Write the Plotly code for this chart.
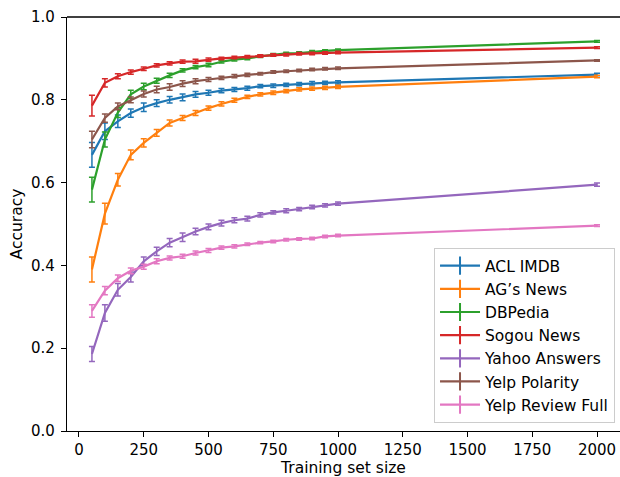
import plotly.graph_objects as go

train_size = [50, 100, 150, 200, 250, 300, 350, 400, 450, 500, 550, 600, 650, 700, 750, 800, 850, 900, 950, 1000, 2000]

series_names = ["ACL IMDB", "AG\u2019s News", "DBPedia", "Sogou News", "Yahoo Answers", "Yelp Polarity", "Yelp Review Full"]
series_colors = ["#1f77b4", "#ff7f0e", "#2ca02c", "#d62728", "#9467bd", "#8c564b", "#e377c2"]

acl_imdb = [0.667, 0.724, 0.748, 0.768, 0.782, 0.792, 0.800, 0.806, 0.813, 0.817, 0.822, 0.825, 0.828, 0.833, 0.834, 0.836, 0.838, 0.840, 0.841, 0.842, 0.861]
ag_news = [0.390, 0.525, 0.607, 0.667, 0.696, 0.720, 0.744, 0.756, 0.768, 0.780, 0.790, 0.799, 0.807, 0.813, 0.817, 0.821, 0.825, 0.827, 0.829, 0.831, 0.856]
dbpedia = [0.583, 0.704, 0.769, 0.813, 0.832, 0.846, 0.859, 0.871, 0.879, 0.884, 0.892, 0.897, 0.900, 0.905, 0.909, 0.912, 0.913, 0.916, 0.918, 0.920, 0.941]
sogou_news = [0.786, 0.841, 0.857, 0.867, 0.875, 0.883, 0.888, 0.892, 0.893, 0.897, 0.900, 0.902, 0.904, 0.906, 0.908, 0.909, 0.911, 0.912, 0.913, 0.914, 0.926]
yahoo_answers = [0.186, 0.285, 0.341, 0.372, 0.410, 0.434, 0.455, 0.468, 0.482, 0.493, 0.502, 0.509, 0.513, 0.522, 0.528, 0.532, 0.536, 0.541, 0.545, 0.549, 0.595]
yelp_polarity = [0.704, 0.756, 0.784, 0.800, 0.814, 0.825, 0.831, 0.839, 0.845, 0.849, 0.853, 0.857, 0.860, 0.863, 0.867, 0.869, 0.871, 0.873, 0.875, 0.876, 0.895]
yelp_full = [0.290, 0.339, 0.369, 0.387, 0.397, 0.410, 0.418, 0.422, 0.430, 0.436, 0.443, 0.446, 0.451, 0.455, 0.458, 0.462, 0.464, 0.465, 0.470, 0.472, 0.496]

acl_imdb_err = [0.030, 0.020, 0.015, 0.010, 0.010, 0.008, 0.008, 0.008, 0.007, 0.006, 0.005, 0.005, 0.005, 0.004, 0.004, 0.004, 0.004, 0.004, 0.004, 0.004, 0.003]
ag_news_err = [0.030, 0.025, 0.015, 0.012, 0.010, 0.008, 0.007, 0.006, 0.006, 0.005, 0.005, 0.005, 0.004, 0.004, 0.004, 0.004, 0.004, 0.004, 0.004, 0.004, 0.003]
dbpedia_err = [0.030, 0.018, 0.012, 0.010, 0.008, 0.006, 0.005, 0.004, 0.004, 0.004, 0.003, 0.003, 0.003, 0.003, 0.003, 0.003, 0.003, 0.003, 0.003, 0.003, 0.002]
sogou_news_err = [0.025, 0.010, 0.006, 0.005, 0.004, 0.004, 0.004, 0.004, 0.005, 0.004, 0.003, 0.003, 0.003, 0.003, 0.003, 0.003, 0.003, 0.003, 0.003, 0.003, 0.002]
yahoo_answers_err = [0.018, 0.020, 0.015, 0.012, 0.010, 0.010, 0.010, 0.010, 0.008, 0.007, 0.007, 0.006, 0.006, 0.005, 0.004, 0.005, 0.004, 0.004, 0.004, 0.004, 0.004]
yelp_polarity_err = [0.020, 0.010, 0.008, 0.007, 0.007, 0.008, 0.008, 0.007, 0.006, 0.005, 0.004, 0.004, 0.004, 0.003, 0.003, 0.003, 0.003, 0.003, 0.003, 0.003, 0.002]
yelp_full_err = [0.015, 0.010, 0.008, 0.007, 0.006, 0.006, 0.005, 0.005, 0.005, 0.005, 0.004, 0.004, 0.003, 0.003, 0.003, 0.003, 0.003, 0.003, 0.003, 0.003, 0.002]

x_ticks = [0, 250, 500, 750, 1000, 1250, 1500, 1750, 2000]
y_ticks = [0.0, 0.2, 0.4, 0.6, 0.8, 1.0]
y_tick_labels = ["0.0", "0.2", "0.4", "0.6", "0.8", "1.0"]

values = [acl_imdb, ag_news, dbpedia, sogou_news, yahoo_answers, yelp_polarity, yelp_full]
errors = [acl_imdb_err, ag_news_err, dbpedia_err, sogou_news_err, yahoo_answers_err, yelp_polarity_err, yelp_full_err]

FONT = "DejaVu Sans"
fig = go.Figure()

for name, color, vals, errs in zip(series_names, series_colors, values, errors):
    fig.add_trace(go.Scatter(
        x=train_size, y=vals, mode="lines", name=name, showlegend=False,
        line=dict(color=color, width=2.2),
        error_y=dict(type="data", array=errs, visible=True, color=color, thickness=1.5, width=3),
    ))

# legend entries (errorbar-like glyph)
for i, (name, color) in enumerate(zip(series_names, series_colors)):
    fig.add_trace(go.Scatter(
        x=[None], y=[None], mode="lines+markers", name=name, legendgroup=str(i),
        line=dict(color=color, width=2.2),
        marker=dict(symbol="line-ns", size=13, color=color, line=dict(color=color, width=2)),
    ))

fig.update_layout(
    width=620, height=477,
    margin=dict(l=67, r=0, t=17, b=46),
    paper_bgcolor="white", plot_bgcolor="white",
    font=dict(family=FONT, size=15, color="black"),
    xaxis=dict(
        range=[-46.3, 2088.8], tickvals=x_ticks, ticks="outside", ticklen=5, tickwidth=1.2,
        tickcolor="black", showline=True, linecolor="black", linewidth=1.3, showgrid=False,
        zeroline=False, tickfont=dict(size=15), automargin=False,
        title=dict(text="Training set size", font=dict(size=15.5), standoff=0),
    ),
    yaxis=dict(
        range=[0, 1], tickvals=y_ticks, ticktext=y_tick_labels, ticks="outside", ticklen=5,
        tickwidth=1.2, tickcolor="black", showline=True, linecolor="black", linewidth=1.3,
        showgrid=False, zeroline=False, tickfont=dict(size=15), automargin=False,
        ticklabelstandoff=3,
        title=dict(text="Accuracy", font=dict(size=15.5), standoff=4),
    ),
    legend=dict(
        x=0.991, y=0.019, xanchor="right", yanchor="bottom",
        bgcolor="rgba(255,255,255,0.85)", bordercolor="#cccccc", borderwidth=1,
        font=dict(family=FONT, size=15.5), tracegroupgap=0, traceorder="normal",
        itemwidth=40,
    ),
    shapes=[dict(type="line", xref="paper", yref="paper", x0=0, x1=1, y0=1, y1=1,
                 line=dict(color="black", width=1.3))],
)

fig.write_html("out.html", config={"displayModeBar": False},
               post_script="document.body.style.margin='0';document.body.style.overflow='hidden';")
